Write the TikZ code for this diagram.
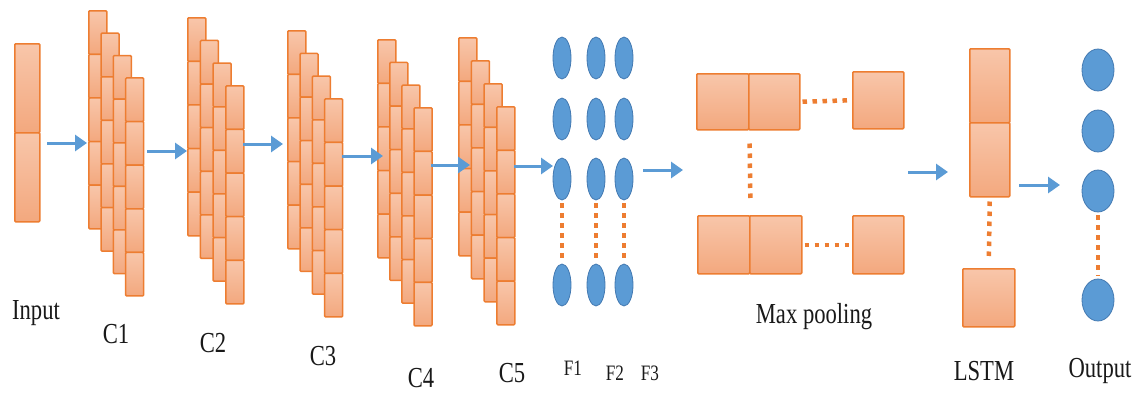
\documentclass[tikz,border=0pt]{standalone}
\usepackage{fontspec}
\setmainfont{Liberation Serif}
\usetikzlibrary{arrows.meta,shapes.geometric}

\definecolor{cellline}{RGB}{237,125,49}
\definecolor{celltop}{RGB}{248,198,170}
\definecolor{cellbot}{RGB}{243,168,126}
\definecolor{neuron}{RGB}{91,155,213}
\definecolor{neuronline}{RGB}{68,122,178}
\definecolor{flow}{RGB}{91,155,213}
\definecolor{ink}{RGB}{25,25,25}

\tikzset{
  cell/.style={draw=cellline, line width=1.5pt, top color=celltop, bottom color=cellbot,
    rounded corners=1pt, inner sep=0pt, anchor=north west},
  unit/.style={ellipse, draw=neuronline, line width=0.8pt, fill=neuron, inner sep=0pt},
  flowarrow/.style={draw=flow, line width=3pt, -{Triangle[length=12pt,width=16pt]}},
  gap/.style={draw=cellline, line width=4.5pt, dash pattern=on 4.5pt off 5.5pt},
  lbl/.style={anchor=base, inner sep=0pt, text=ink, font=\fontsize{29}{30}\selectfont},
  smalllbl/.style={anchor=base, inner sep=0pt, text=ink, font=\fontsize{22}{24}\selectfont},
}
\newcommand\squeezed[1]{\scalebox{0.78}[1]{#1}}

% a stack of four feature maps, each a column of five cells:
% name, left x, top y, column shift x, column shift y
\newcommand\fmstack[5]{%
  \foreach \c in {0,...,3}{%
    \foreach \r in {0,...,4}{%
      \node[cell, minimum width=18pt, minimum height=43.6pt] (#1-\c-\r)
        at ({#2+\c*#4},{#3+\c*#5+\r*43.6}) {};
    }%
  }%
}

\begin{document}
\begin{tikzpicture}[x=1pt, y=-1pt]
\useasboundingbox (0,0) rectangle (1136,394);
\fill[white] (0,0) rectangle (1136,394);

% input vector
\node[cell, minimum width=25pt, minimum height=89pt] (in-a) at (14,43) {};
\node[cell, minimum width=25pt, minimum height=89pt] (in-b) at (14,132) {};

% convolution layers
\fmstack{c1}{88}{10}{12.3}{22.4}
\fmstack{c2}{187}{17}{12.7}{22.7}
\fmstack{c3}{287}{30}{12.3}{22.7}
\fmstack{c4}{377}{39}{12.1}{22.7}
\fmstack{c5}{458}{37}{12.7}{23}

% fully connected layers
\foreach \col/\x in {1/562, 2/596, 3/624}{
  \foreach \row/\y in {1/58, 2/119, 3/179, 4/285}{
    \node[unit, minimum width=18pt, minimum height=42pt] (f\col-\row) at (\x,\y) {};
  }
  \draw[gap, shorten <=3pt, shorten >=3pt] (f\col-3.south) -- (f\col-4.north);
}

% max pooling
\node[cell, minimum width=52pt, minimum height=56pt] (mp-t1) at (696,73) {};
\node[cell, minimum width=51pt, minimum height=56pt] (mp-t2) at (748,73) {};
\node[cell, minimum width=51pt, minimum height=57pt] (mp-tr) at (852,71) {};
\node[cell, minimum width=52pt, minimum height=58pt] (mp-b1) at (697,215) {};
\node[cell, minimum width=52pt, minimum height=58pt] (mp-b2) at (749,215) {};
\node[cell, minimum width=51pt, minimum height=58pt] (mp-br) at (852,215) {};
\draw[gap, shorten <=2pt] (mp-t2.east) -- (mp-tr.west);
\draw[gap, shorten <=2pt] (mp-b2.east) -- (mp-br.west);
\draw[gap, shorten <=13pt, shorten >=15pt] (mp-t1.south east) -- (mp-b1.north east);

% LSTM
\node[cell, minimum width=40pt, minimum height=74pt] (ls-a) at (969,48) {};
\node[cell, minimum width=40pt, minimum height=74pt] (ls-b) at (969,122) {};
\node[cell, minimum width=52pt, minimum height=58pt] (ls-c) at (962,268) {};
\draw[gap, shorten <=4pt, shorten >=10pt] (ls-b.south) -- (ls-c.north);

% output units
\foreach \row/\y in {1/70, 2/131, 3/191, 4/300}{
  \node[unit, minimum width=32pt, minimum height=42pt] (o-\row) at (1098,\y) {};
}
\draw[gap, shorten <=3pt, shorten >=3pt] (o-3.south) -- (o-4.north);

% data flow
\coordinate (a1s) at (47,143);   \coordinate (a1e) at (87,143);
\coordinate (a2s) at (147,151);  \coordinate (a2e) at (187,151);
\coordinate (a3s) at (243,144);  \coordinate (a3e) at (283,144);
\coordinate (a4s) at (342,156);  \coordinate (a4e) at (383,156);
\coordinate (a5s) at (431,165);  \coordinate (a5e) at (470,165);
\coordinate (a6s) at (514,166);  \coordinate (a6e) at (553,166);
\coordinate (a7s) at (643,170);  \coordinate (a7e) at (683,170);
\coordinate (a8s) at (908,172);  \coordinate (a8e) at (948,172);
\coordinate (a9s) at (1019,185); \coordinate (a9e) at (1060,185);
\foreach \i in {1,...,9}{ \draw[flowarrow] (a\i s) -- (a\i e); }

% labels
\node[lbl] (t-in)  at (36,319)   {\squeezed{Input}};
\node[lbl] (t-c1)  at (116,343)  {\squeezed{C1}};
\node[lbl] (t-c2)  at (213,352)  {\squeezed{C2}};
\node[lbl] (t-c3)  at (323,365)  {\squeezed{C3}};
\node[lbl] (t-c4)  at (421,387)  {\squeezed{C4}};
\node[lbl] (t-c5)  at (512,382)  {\squeezed{C5}};
\node[smalllbl] (t-f1) at (573,375) {\squeezed{F1}};
\node[smalllbl] (t-f2) at (615,380) {\squeezed{F2}};
\node[smalllbl] (t-f3) at (650,380) {\squeezed{F3}};
\node[lbl] (t-mp)  at (814,323)  {\squeezed{Max pooling}};
\node[lbl] (t-ls)  at (984,380)  {\squeezed{LSTM}};
\node[lbl] (t-out) at (1100,377) {\squeezed{Output}};
\end{tikzpicture}
\end{document}
